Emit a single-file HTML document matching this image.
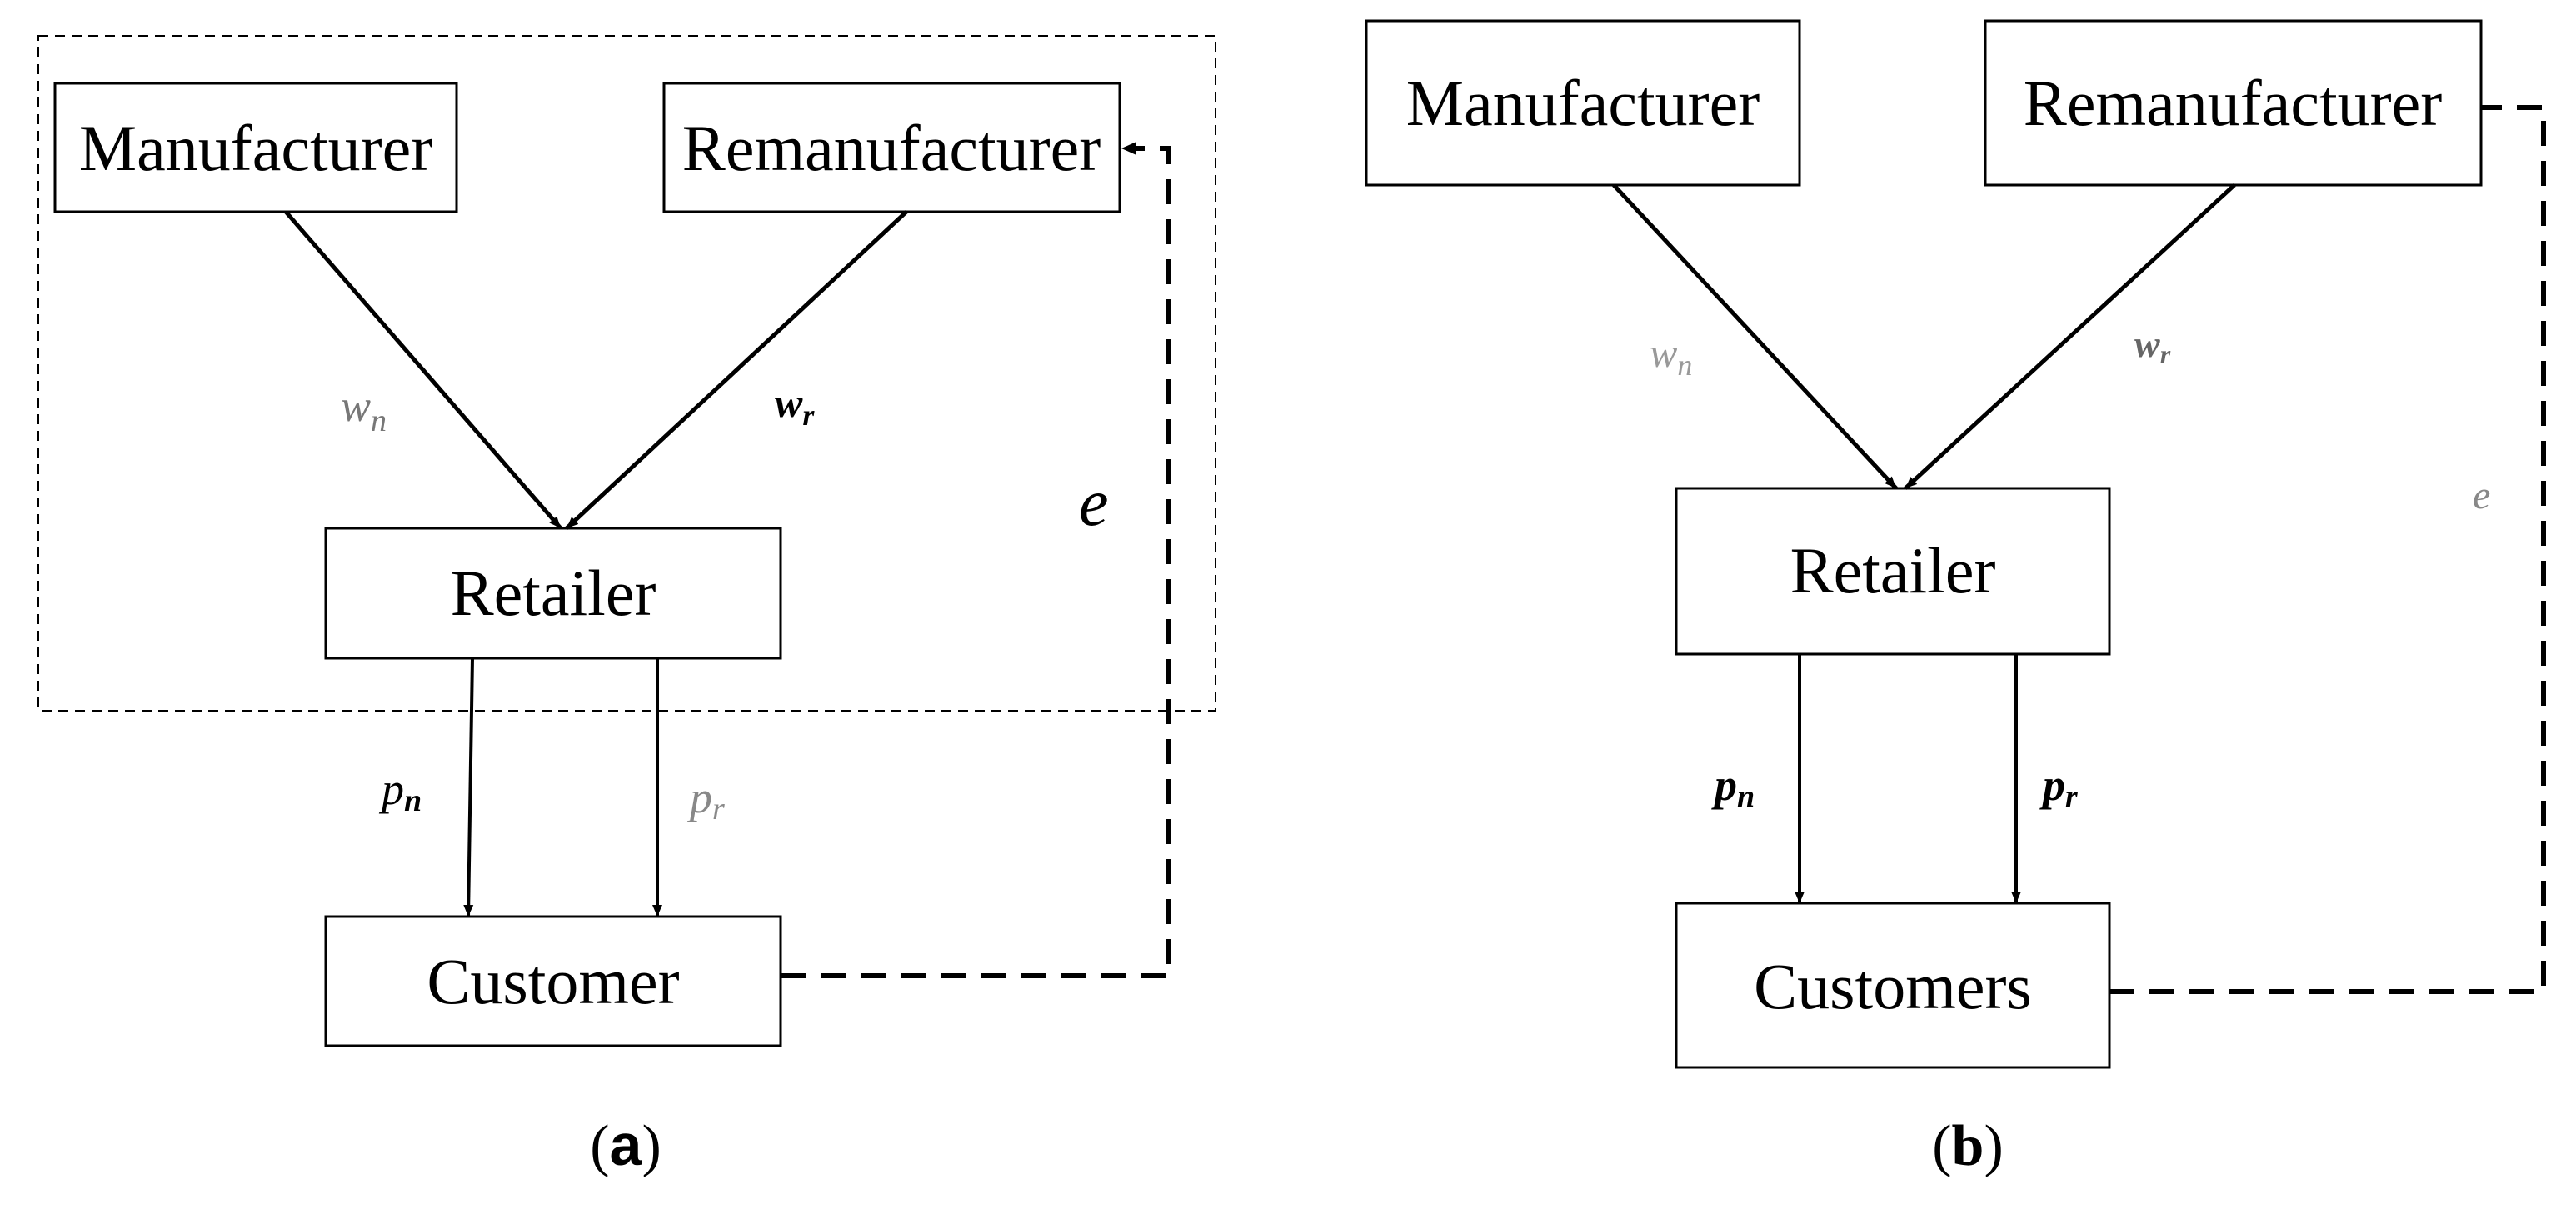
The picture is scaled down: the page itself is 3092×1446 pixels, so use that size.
<!DOCTYPE html>
<html><head><meta charset="utf-8"><style>
html,body{margin:0;padding:0;background:#fff;width:3092px;height:1446px;overflow:hidden}
svg{display:block}
text{font-family:"Liberation Serif",serif;fill:#000}
</style></head><body>
<svg width="3092" height="1446" viewBox="0 0 3092 1446" xmlns="http://www.w3.org/2000/svg">
<defs>
<marker id="ah2" markerWidth="16" markerHeight="16" refX="14" refY="8" orient="auto" markerUnits="userSpaceOnUse">
<path d="M0,2 L14,8 L0,14 z" fill="#000"/></marker>
</defs>
<g fill="none" stroke="#000">
<rect x="46" y="43" width="1413" height="810" stroke-width="2" stroke-dasharray="12,8"/>
<rect x="66" y="100" width="482" height="154" stroke-width="3"/>
<rect x="797" y="100" width="547" height="154" stroke-width="3"/>
<rect x="391" y="634" width="546" height="156" stroke-width="3"/>
<rect x="391" y="1100" width="546" height="155" stroke-width="3"/>
<line x1="343" y1="254" x2="673" y2="634" stroke-width="5" marker-end="url(#ah2)"/>
<line x1="1088" y1="254" x2="680" y2="634" stroke-width="5" marker-end="url(#ah2)"/>
<line x1="567" y1="790" x2="562" y2="1100" stroke-width="4" marker-end="url(#ah2)"/>
<line x1="789" y1="790" x2="789" y2="1100" stroke-width="4" marker-end="url(#ah2)"/>
<polyline points="937,1171 1403,1171 1403,178 1362,178" stroke-width="6" stroke-dasharray="30,18"/>
<path d="M1346,178 L1364,170 L1364,186 z" fill="#000" stroke="none"/>
<rect x="1640" y="25" width="520" height="197" stroke-width="3"/>
<rect x="2383" y="25" width="595" height="197" stroke-width="3"/>
<rect x="2012" y="586" width="520" height="199" stroke-width="3"/>
<rect x="2012" y="1084" width="520" height="197" stroke-width="3"/>
<line x1="1937" y1="222" x2="2276" y2="586" stroke-width="5" marker-end="url(#ah2)"/>
<line x1="2682" y1="222" x2="2287" y2="586" stroke-width="5" marker-end="url(#ah2)"/>
<line x1="2160" y1="785" x2="2160" y2="1084" stroke-width="4" marker-end="url(#ah2)"/>
<line x1="2420" y1="785" x2="2420" y2="1084" stroke-width="4" marker-end="url(#ah2)"/>
<polyline points="2532,1190 3053,1190 3053,129 2978,129" stroke-width="6" stroke-dasharray="30,18"/>
</g>
<g font-size="78" text-anchor="middle">
<text x="307" y="204">Manufacturer</text>
<text x="1070" y="204">Remanufacturer</text>
<text x="664" y="738">Retailer</text>
<text x="664" y="1204">Customer</text>
<text x="1900" y="150">Manufacturer</text>
<text x="2680" y="150">Remanufacturer</text>
<text x="2272" y="711">Retailer</text>
<text x="2272" y="1210">Customers</text>
</g>
<g font-style="italic">
<text x="409" y="505" font-size="54" style="fill:#777">w<tspan font-size="38" dy="12">n</tspan></text>
<text x="930" y="500" font-size="50" font-weight="bold">w<tspan font-size="36" dy="10">r</tspan></text>
<text x="1295" y="630" font-size="80">e</text>
<text x="458" y="965" font-size="54">p<tspan font-size="38" font-weight="bold" dy="8">n</tspan></text>
<text x="828" y="975" font-size="54" style="fill:#888">p<tspan font-size="38" dy="8">r</tspan></text>
<text x="1980" y="440" font-size="50" style="fill:#999">w<tspan font-size="36" dy="10">n</tspan></text>
<text x="2562" y="428" font-size="46" font-weight="bold" style="fill:#666">w<tspan font-size="32" dy="8">r</tspan></text>
<text x="2968" y="610" font-size="48" style="fill:#888">e</text>
<text x="2058" y="960" font-size="54" font-weight="bold">p<tspan font-size="38" dy="8">n</tspan></text>
<text x="2452" y="960" font-size="54" font-weight="bold">p<tspan font-size="38" dy="8">r</tspan></text>
</g>
<g font-size="70" text-anchor="middle">
<text x="751" y="1398">(<tspan font-family="Liberation Sans, sans-serif" font-weight="bold">a</tspan>)</text>
<text x="2362" y="1398">(<tspan font-weight="bold">b</tspan>)</text>
</g>
</svg>
</body></html>
